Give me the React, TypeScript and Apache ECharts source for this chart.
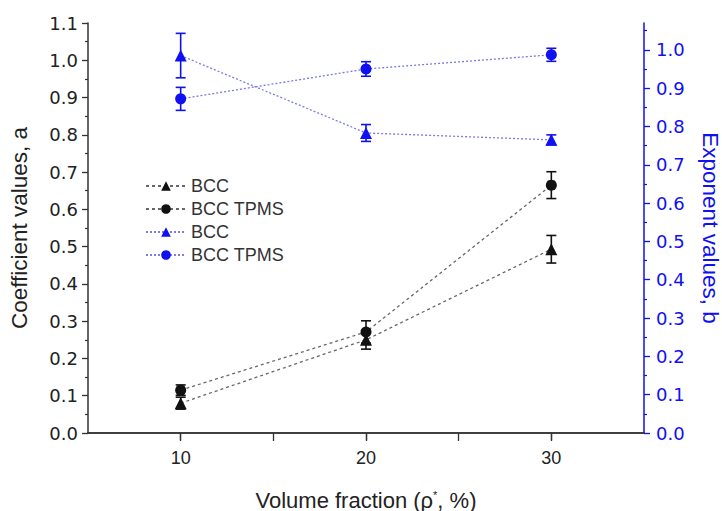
import React, { useEffect, useRef } from "react";
import * as echarts from "echarts";

const xValues = [10, 20, 30];
const bccA = [0.08, 0.25, 0.493];
const bccAErr = [0.016, 0.025, 0.037];
const tpmsA = [0.115, 0.271, 0.665];
const tpmsAErr = [0.014, 0.03, 0.036];
const bccB = [0.985, 0.783, 0.765];
const bccBErr = [0.058, 0.022, 0.013];
const tpmsB = [0.872, 0.95, 0.987];
const tpmsBErr = [0.03, 0.019, 0.017];
const xTickLabels = [10, 20, 30];
const rightTicks = [0, 0.1, 0.2, 0.3, 0.4, 0.5, 0.6, 0.7, 0.8, 0.9, 1.0];
const legendNames = ["BCC", "BCC TPMS", "BCC", "BCC TPMS"];

const BLACK = "#111111";
const BLUE = "#1010f0";
const BLUE_LINE = "#7b7be0";
const FONT = "Liberation Sans";
const TICKFONT = "DejaVu Sans";

function pts(vals: number[]) {
  return xValues.map((x, i) => [x, vals[i]]);
}
function errs(vals: number[], e: number[]) {
  return xValues.map((x, i) => [x, vals[i] - e[i], vals[i] + e[i]]);
}

function errorSeries(vals: number[], e: number[], yIdx: number, color: string) {
  return {
    type: "custom",
    yAxisIndex: yIdx,
    silent: true,
    z: 3,
    data: errs(vals, e),
    renderItem: (params: any, api: any) => {
      const x = api.value(0);
      const lo = api.coord([x, api.value(1)]);
      const hi = api.coord([x, api.value(2)]);
      const w = 5;
      const st = { stroke: color, lineWidth: 1.6 };
      return {
        type: "group",
        children: [
          { type: "line", shape: { x1: lo[0], y1: lo[1], x2: hi[0], y2: hi[1] }, style: st },
          { type: "line", shape: { x1: lo[0] - w, y1: lo[1], x2: lo[0] + w, y2: lo[1] }, style: st },
          { type: "line", shape: { x1: hi[0] - w, y1: hi[1], x2: hi[0] + w, y2: hi[1] }, style: st },
        ],
      };
    },
  };
}

function lineSeries(name: string, vals: number[], yIdx: number, symbol: string, color: string, lineColor: string, dash: number[], size: number) {
  return {
    name,
    type: "line",
    yAxisIndex: yIdx,
    data: pts(vals),
    symbol,
    symbolSize: size,
    z: 4,
    itemStyle: { color },
    lineStyle: { color: lineColor, width: 1.3, type: dash },
  };
}

export default function App() {
  const ref = useRef<HTMLDivElement>(null);
  useEffect(() => {
    if (!ref.current) return;
    const chart = echarts.init(ref.current, undefined, { renderer: "svg" });
    const names = ["BCC-a", "BCC TPMS-a", "BCC-b", "BCC TPMS-b"];
    chart.setOption({
      animation: false,
      textStyle: { fontFamily: FONT },
      grid: { left: 88, right: 78, top: 23, bottom: 78, containLabel: false, outerBoundsMode: "none" },
      legend: {
        orient: "vertical",
        left: 140,
        top: 172,
        itemGap: 5,
        itemWidth: 40,
        itemHeight: 12,
        data: names,
        formatter: (n: string) => legendNames[names.indexOf(n)],
        textStyle: { fontSize: 18, color: "#333", fontFamily: FONT },
      },
      xAxis: [
        {
          type: "value",
          min: 5,
          max: 35,
          interval: 5,
          position: "bottom",
          name: "Volume fraction (ρ{sup|*}, %)",
          nameLocation: "middle",
          nameGap: 56,
          nameTextStyle: {
            fontSize: 22,
            color: "#222",
            fontFamily: FONT,
            rich: { sup: { fontSize: 11, verticalAlign: "top", padding: [0, 0, 10, 0], color: "#222" } },
          },
          axisLine: { lineStyle: { color: "#333", width: 1.5 } },
          axisTick: { show: true, length: 7, customValues: xTickLabels, lineStyle: { color: "#333", width: 1.3 } },
          axisLabel: { customValues: xTickLabels, fontSize: 18, color: "#222", margin: 16, fontFamily: FONT },
          splitLine: { show: false },
        },
        {
          type: "value",
          min: 5,
          max: 35,
          interval: 5,
          position: "top",
          axisLine: { lineStyle: { color: "#333", width: 1.5 } },
          axisTick: { show: true, inside: true, length: 8, customValues: [10, 15, 20, 25, 30], lineStyle: { color: "#333", width: 1.3 } },
          axisLabel: { show: false },
          splitLine: { show: false },
        },
      ],
      yAxis: [
        {
          type: "value",
          min: 0,
          max: 1.1,
          interval: 0.1,
          position: "left",
          name: "Coefficient values, a",
          nameLocation: "middle",
          nameGap: 57,
          nameRotate: 90,
          nameTextStyle: { fontSize: 22.5, color: "#222", fontFamily: FONT },
          axisLine: { show: true, lineStyle: { color: "#333", width: 1.5 } },
          axisTick: { show: true, length: 6, lineStyle: { color: "#333", width: 1.3 } },
          minorTick: { show: true, splitNumber: 2, length: 3, lineStyle: { color: "#333", width: 1.2 } },
          axisLabel: { fontSize: 18, color: "#222", margin: 10, formatter: (v: number) => v.toFixed(1), fontFamily: TICKFONT },
          splitLine: { show: false },
        },
        {
          type: "value",
          min: 0,
          max: 1.07,
          interval: 0.1,
          position: "right",
          name: "Exponent values, b",
          nameLocation: "middle",
          nameGap: 55,
          nameRotate: -90,
          nameTextStyle: { fontSize: 22.5, color: BLUE, fontFamily: FONT },
          axisLine: { show: true, lineStyle: { color: BLUE, width: 1.5 } },
          axisTick: { show: true, length: 6, customValues: rightTicks, lineStyle: { color: BLUE, width: 1.3 } },
          minorTick: { show: true, splitNumber: 2, length: 3, lineStyle: { color: BLUE, width: 1.2 } },
          axisLabel: { fontSize: 18, color: BLUE, margin: 12, showMaxLabel: false, formatter: (v: number) => v.toFixed(1), fontFamily: TICKFONT },
          splitLine: { show: false },
        },
      ],
      series: [
        lineSeries(names[0], bccA, 0, "triangle", BLACK, "#666", [3, 3], 12),
        lineSeries(names[1], tpmsA, 0, "circle", BLACK, "#666", [3, 3], 11),
        lineSeries(names[2], bccB, 1, "triangle", BLUE, BLUE_LINE, [2, 2], 12),
        lineSeries(names[3], tpmsB, 1, "circle", BLUE, BLUE_LINE, [2, 2], 11),
        errorSeries(bccA, bccAErr, 0, BLACK),
        errorSeries(tpmsA, tpmsAErr, 0, BLACK),
        errorSeries(bccB, bccBErr, 1, BLUE),
        errorSeries(tpmsB, tpmsBErr, 1, BLUE),
      ],
    });
    return () => chart.dispose();
  }, []);
  return <div ref={ref} style={{ width: 722, height: 511, position: "absolute", left: 0, top: 0 }} />;
}
